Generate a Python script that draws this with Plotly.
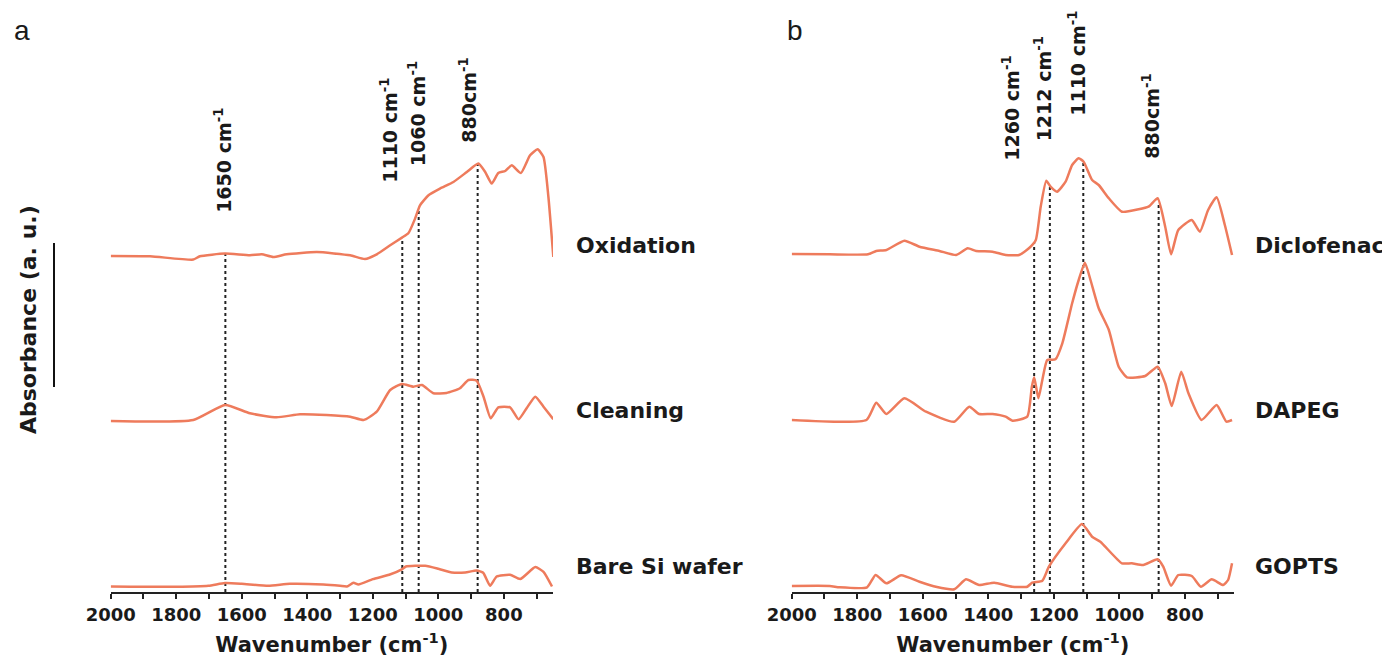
import numpy as np
import plotly.graph_objects as go

# ---------------- data: panel a ----------------
oxidation_wn = [2000, 1880, 1748, 1728, 1651, 1575, 1539, 1504, 1463, 1371, 1269, 1224, 1188, 1147,
                1111, 1091, 1071, 1056, 1030, 995, 954, 913, 878, 857, 837, 817, 796, 776, 748, 720,
                697, 679, 664, 649]
oxidation_abs = [0, -0.0006, -0.0072, -0.0006, 0.0048, 0.0014, 0.0034, -0.002, 0.0034, 0.008, 0.0014,
                 -0.006, 0.0034, 0.0214, 0.0368, 0.046, 0.0748, 0.1014, 0.1214, 0.1348, 0.148, 0.168,
                 0.1848, 0.168, 0.1448, 0.166, 0.170, 0.1814, 0.166, 0.2014, 0.2134, 0.198, 0.118, -0.002]

cleaning_wn = [2000, 1748, 1651, 1575, 1494, 1422, 1341, 1269, 1228, 1188, 1147, 1111, 1076, 1050,
               1015, 975, 934, 908, 883, 862, 840, 817, 781, 755, 730, 704, 679, 649]
cleaning_abs = [0, 0.002, 0.032, 0.0154, 0.0074, 0.0134, 0.012, 0.0086, 0.002, 0.0186, 0.062, 0.074,
                0.0686, 0.072, 0.0554, 0.056, 0.0654, 0.082, 0.0806, 0.0486, 0.0054, 0.0274, 0.0274,
                0.0034, 0.026, 0.0486, 0.0286, 0.0034]

bare_wn = [2000, 1800, 1702, 1651, 1600, 1519, 1453, 1351, 1300, 1279, 1259, 1244, 1200, 1150, 1110,
           1099, 1040, 1000, 959, 918, 883, 863, 842, 822, 781, 750, 704, 679, 653]
bare_abs = [0, -0.0006, 0.0014, 0.0068, 0.0054, 0.0014, 0.0054, 0.004, 0.0014, 0, 0.0074, 0.004,
            0.0148, 0.0234, 0.0348, 0.04, 0.0414, 0.0354, 0.028, 0.028, 0.032, 0.0274, 0.0014, 0.02,
            0.0234, 0.0148, 0.0388, 0.0294, 0]

# ---------------- data: panel b ----------------
diclofenac_wn = [2000, 1884, 1767, 1742, 1711, 1656, 1610, 1549, 1498, 1463, 1437, 1387, 1347, 1306,
                 1276, 1255, 1240, 1223, 1210, 1190, 1164, 1144, 1124, 1109, 1083, 1063, 1032, 992,
                 941, 911, 883, 860, 842, 820, 779, 754, 729, 703, 678, 656]
diclofenac_abs = [0, -0.0006, -0.0006, 0.006, 0.008, 0.0266, 0.0146, 0.006, -0.002, 0.0114, 0.006,
                  0.0046, -0.002, -0.002, 0.0114, 0.028, 0.0946, 0.1466, 0.1346, 0.1246, 0.1446, 0.178,
                  0.1914, 0.1846, 0.148, 0.138, 0.1114, 0.0846, 0.0894, 0.0946, 0.1114, 0.0546, -0.0006,
                  0.048, 0.068, 0.0446, 0.088, 0.1134, 0.058, -0.002]

dapeg_wn = [2000, 1772, 1742, 1711, 1656, 1590, 1504, 1458, 1428, 1387, 1347, 1326, 1281, 1267, 1260,
            1247, 1235, 1220, 1195, 1174, 1144, 1124, 1105, 1088, 1063, 1032, 1002, 977, 921, 883,
            860, 840, 811, 789, 749, 703, 673, 656]
dapeg_abs = [0, 0, 0.0346, 0.012, 0.0434, 0.0166, -0.0034, 0.0266, 0.012, 0.012, 0.0066, -0.0014,
             0.0066, 0.0666, 0.0854, 0.0434, 0.08, 0.12, 0.1214, 0.1534, 0.2334, 0.28, 0.3146, 0.28,
             0.2234, 0.18, 0.1066, 0.0854, 0.088, 0.1066, 0.0734, 0.028, 0.0966, 0.0534, 0, 0.03,
             -0.0034, 0]

gopts_wn = [2000, 1884, 1854, 1770, 1744, 1711, 1666, 1610, 1560, 1504, 1468, 1428, 1382, 1327, 1281,
            1266, 1235, 1215, 1164, 1114, 1083, 1058, 992, 962, 927, 883, 866, 842, 820, 779, 751,
            718, 683, 668, 656]
gopts_abs = [0, 0, -0.0026, -0.0026, 0.022, 0.0054, 0.0214, 0.0086, -0.0014, -0.0066, 0.0134, 0.002,
             0.0066, -0.0014, -0.0014, 0.0066, 0.0106, 0.0386, 0.0854, 0.124, 0.0986, 0.0886, 0.0454,
             0.0454, 0.042, 0.0534, 0.0386, 0.0006, 0.022, 0.02, -0.0014, 0.0134, 0.002, 0.012, 0.0454]

# stacking offsets (a.u.)
offsets_a = {"Oxidation": 0.672, "Cleaning": 0.342, "Bare Si wafer": 0.011}
offsets_b = {"Diclofenac": 0.676, "DAPEG": 0.344, "GOPTS": 0.012}

peaks_a = [1650, 1110, 1060, 880]
peak_labels_a = ["1650 cm<sup>-1</sup>", "1110 cm<sup>-1</sup>", "1060 cm<sup>-1</sup>", "880cm<sup>-1</sup>"]
peaks_b = [1260, 1212, 1110, 880]
peak_labels_b = ["1260 cm<sup>-1</sup>", "1212 cm<sup>-1</sup>", "1110 cm<sup>-1</sup>", "880cm<sup>-1</sup>"]

xticks = [2000, 1800, 1600, 1400, 1200, 1000, 800]

# ---------------- styling / layout ----------------
PAGE_W, PAGE_H = 1390, 664
BODY = 8                               # default page margin around the plot div
W, H = PAGE_W - BODY, PAGE_H - BODY    # figure size so it fits the window exactly
PLOT_TOP, PLOT_BOT = 92, 592           # window pixel rows of y = 1 and y = 0
LINE = "#EE7B5C"
FONT = "DejaVu Sans"
TXT = "#1a1a1a"


def px(x):
    """window pixel column -> paper x"""
    return (x - BODY) / W


def py(y):
    """window pixel row -> paper y"""
    return (H - (y - BODY)) / H


fig = go.Figure()

series_a = [("Oxidation", oxidation_wn, oxidation_abs),
            ("Cleaning", cleaning_wn, cleaning_abs),
            ("Bare Si wafer", bare_wn, bare_abs)]
series_b = [("Diclofenac", diclofenac_wn, diclofenac_abs),
            ("DAPEG", dapeg_wn, dapeg_abs),
            ("GOPTS", gopts_wn, gopts_abs)]

for name, wn, ab in series_a:
    fig.add_trace(go.Scatter(x=wn, y=np.array(ab) + offsets_a[name], mode="lines",
                             line=dict(color=LINE, width=2.5, shape="spline", smoothing=0.5),
                             xaxis="x", yaxis="y", name=name, showlegend=False, hoverinfo="skip"))
for name, wn, ab in series_b:
    fig.add_trace(go.Scatter(x=wn, y=np.array(ab) + offsets_b[name], mode="lines",
                             line=dict(color=LINE, width=2.5, shape="spline", smoothing=0.5),
                             xaxis="x2", yaxis="y2", name=name, showlegend=False, hoverinfo="skip"))


# dotted marker lines, from the top spectrum down to the axis
def add_peak_lines(peaks, top_wn, top_abs, top_off, xref, yref):
    wn_rev = np.array(top_wn)[::-1]
    ab_rev = np.array(top_abs)[::-1]
    for p in peaks:
        ytop = float(np.interp(p, wn_rev, ab_rev)) + top_off
        fig.add_shape(type="line", x0=p, x1=p, y0=0, y1=ytop, xref=xref, yref=yref,
                      line=dict(color="#222222", width=2, dash="dot"), layer="below")


add_peak_lines(peaks_a, oxidation_wn, oxidation_abs, offsets_a["Oxidation"], "x", "y")
add_peak_lines(peaks_b, diclofenac_wn, diclofenac_abs, offsets_b["Diclofenac"], "x2", "y2")

# rotated peak labels (pixel shift from the line, bottom row in pixels)
label_pos_a = [(-3, 215), (-13, 185), (-2, 168), (-10, 145)]
label_pos_b = [(-24, 163), (-7, 143), (-7, 118), (-8, 161)]
for peaks, labels, poss, xr in [(peaks_a, peak_labels_a, label_pos_a, "x"),
                                (peaks_b, peak_labels_b, label_pos_b, "x2")]:
    for p, t, (dx, yb) in zip(peaks, labels, poss):
        fig.add_annotation(x=p, y=py(yb), xref=xr, yref="paper", text=t, textangle=-90,
                           showarrow=False, xanchor="center", yanchor="bottom", xshift=dx,
                           font=dict(family=FONT, size=19, color=TXT, weight="bold"))

# series labels
name_rows = [245, 410, 566]
for (name, _, _), yy in zip(series_a, name_rows):
    fig.add_annotation(x=px(574), y=py(yy), xref="paper", yref="paper", text=name, showarrow=False,
                       xanchor="left", yanchor="middle",
                       font=dict(family=FONT, size=22, color=TXT, weight="bold"))
for (name, _, _), yy in zip(series_b, name_rows):
    fig.add_annotation(x=px(1253), y=py(yy), xref="paper", yref="paper", text=name, showarrow=False,
                       xanchor="left", yanchor="middle",
                       font=dict(family=FONT, size=22, color=TXT, weight="bold"))

# panel letters
fig.add_annotation(x=px(12), y=py(30), xref="paper", yref="paper", text="a", showarrow=False,
                   xanchor="left", yanchor="middle", font=dict(family="Liberation Sans", size=28, color=TXT))
fig.add_annotation(x=px(785), y=py(30), xref="paper", yref="paper", text="b", showarrow=False,
                   xanchor="left", yanchor="middle", font=dict(family="Liberation Sans", size=28, color=TXT))

# y-axis title and scale bar
fig.add_annotation(x=px(28), y=py(320), xref="paper", yref="paper", text="Absorbance (a. u.)",
                   textangle=-90, showarrow=False, xanchor="center", yanchor="middle",
                   font=dict(family=FONT, size=22, color=TXT, weight="bold"))
fig.add_shape(type="line", x0=px(54), x1=px(54), y0=py(243), y1=py(387),
              xref="paper", yref="paper", line=dict(color="#111111", width=2))

xaxis_common = dict(range=[2000, 650], tickmode="array", tickvals=xticks,
                    ticktext=[str(v) for v in xticks], ticks="outside", ticklen=5, tickwidth=1.5,
                    tickcolor="#222", showline=True, linecolor="#222", linewidth=2, showgrid=False,
                    zeroline=False, automargin=False,
                    minor=dict(tickvals=list(range(2000, 650, -100)), ticks="outside",
                               ticklen=5, tickwidth=1.5, tickcolor="#222"),
                    tickfont=dict(family=FONT, size=18, color=TXT, weight="bold"),
                    title=dict(text="Wavenumber (cm<sup>-1</sup>)", standoff=14,
                               font=dict(family=FONT, size=21, color=TXT, weight="bold")))
yaxis_common = dict(range=[0, 1], visible=False, fixedrange=True)

fig.update_layout(
    width=W, height=H,
    margin=dict(l=0, r=0, t=0, b=0, autoexpand=False),
    paper_bgcolor="white", plot_bgcolor="white",
    xaxis=dict(domain=[px(110.7), px(553)], anchor="y", **xaxis_common),
    xaxis2=dict(domain=[px(791.7), px(1234)], anchor="y2", **xaxis_common),
    yaxis=dict(domain=[py(PLOT_BOT), py(PLOT_TOP)], anchor="x", **yaxis_common),
    yaxis2=dict(domain=[py(PLOT_BOT), py(PLOT_TOP)], anchor="x2", **yaxis_common),
    showlegend=False,
)

fig.write_html("out.html")
